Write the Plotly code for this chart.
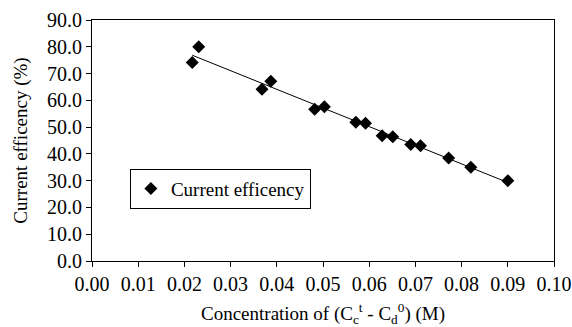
import numpy as np
import plotly.graph_objects as go

conc = [0.0217, 0.0231, 0.0368, 0.0387, 0.0482, 0.0503, 0.0571, 0.0592,
        0.0628, 0.0651, 0.0690, 0.0711, 0.0772, 0.0820, 0.0900]
eff = [74.1, 80.0, 64.1, 67.1, 56.7, 57.6, 51.8, 51.4,
       46.8, 46.4, 43.5, 43.0, 38.5, 35.0, 30.0]

series_name = "Current efficency"
x_title = "Concentration of (C<sub>c</sub><sup>t</sup> - C<sub>d</sub><sup>0</sup>) (M)"
y_title = "Current efficency (%)"

# linear trendline (least squares of the data)
slope, intercept = np.polyfit(conc, eff, 1)
tx = [min(conc), max(conc)]
ty = [slope * v + intercept for v in tx]

FONT = "Liberation Serif"

fig = go.Figure()
fig.add_trace(go.Scatter(x=tx, y=ty, mode="lines", line=dict(color="black", width=1),
                         showlegend=False, hoverinfo="skip"))
fig.add_trace(go.Scatter(x=conc, y=eff, mode="markers", name=series_name,
                         marker=dict(symbol="diamond", size=10, color="black")))

fig.update_layout(
    width=572, height=327,
    margin=dict(l=92, r=18, t=20, b=66),
    paper_bgcolor="white", plot_bgcolor="white",
    font=dict(family=FONT, size=19, color="black"),
    legend=dict(x=0.082, y=0.30, xanchor="left", yanchor="middle",
                bgcolor="white", bordercolor="black", borderwidth=1,
                font=dict(family=FONT, size=19), itemwidth=30),
    xaxis=dict(range=[0, 0.10], dtick=0.01, tick0=0, tickformat=".2f",
               tickfont=dict(family=FONT, size=20), automargin=False,
               showline=True, linecolor="black", linewidth=1, mirror=True,
               ticks="outside", ticklen=5, tickcolor="black", showgrid=False,
               zeroline=False,
               title=dict(text=x_title, standoff=30, font=dict(family=FONT, size=19))),
    yaxis=dict(range=[0, 90], dtick=10, tick0=0, tickformat=".1f",
               tickfont=dict(family=FONT, size=20), automargin=False,
               showline=True, linecolor="black", linewidth=1, mirror=True,
               ticks="outside", ticklen=5, tickcolor="black", showgrid=False,
               zeroline=False,
               title=dict(text=y_title, standoff=14, font=dict(family=FONT, size=19))),
)

fig.write_html("out.html")
